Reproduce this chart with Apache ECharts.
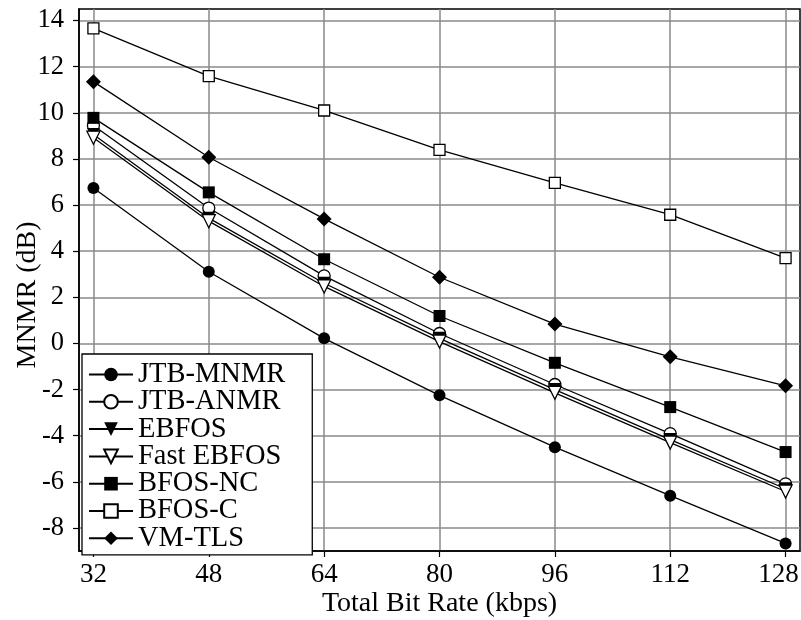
<!DOCTYPE html>
<html>
<head>
<meta charset="utf-8">
<script src="https://cdn.jsdelivr.net/npm/echarts@6/dist/echarts.min.js"></script>
<style>
  html, body { margin: 0; padding: 0; background: #fff; }
  #chart { width: 801px; height: 620px; }
</style>
</head>
<body>
<div id="chart"></div>
<script>
// Total bit rate (kbps) at which each allocation method was evaluated
const bitRates = [32, 48, 64, 80, 96, 112, 128];
const yTicks = [-8, -6, -4, -2, 0, 2, 4, 6, 8, 10, 12, 14];

// MNMR (dB) per method
const jtbMnmr   = [6.74, 3.11, 0.22, -2.25, -4.50, -6.60, -8.67];
const jtbAnmr   = [9.45, 5.87, 2.93, 0.43, -1.78, -3.91, -6.09];
const ebfos     = [9.06, 5.43, 2.61, 0.22, -2.00, -4.17, -6.30];
const fastEbfos = [8.92, 5.30, 2.47, 0.08, -2.14, -4.30, -6.42];
const bfosNc    = [9.78, 6.55, 3.65, 1.19, -0.84, -2.76, -4.71];
const bfosC     = [13.66, 11.59, 10.10, 8.39, 6.96, 5.58, 3.70];
const vmTls     = [11.35, 8.07, 5.40, 2.87, 0.84, -0.58, -1.84];

const FONT = '"Liberation Serif", "Times New Roman", serif';
const lastRate = bitRates[bitRates.length - 1];

function makeSeries(name, values, symbol, filled, size, rotate) {
  return {
    name: name,
    type: 'line',
    data: bitRates.map((x, i) => [x, values[i]]),
    symbol: symbol,
    symbolSize: size,
    symbolRotate: rotate || 0,
    showAllSymbol: true,
    lineStyle: { color: '#000', width: 1.3 },
    itemStyle: {
      color: filled ? '#000' : '#fff',
      borderColor: '#000',
      borderWidth: filled ? 0 : 1.3
    },
    emphasis: { disabled: true },
    animation: false
  };
}

const chart = echarts.init(document.getElementById('chart'), null, { renderer: 'canvas' });

chart.setOption({
  backgroundColor: '#fff',
  animation: false,
  grid: {
    left: 79, right: 1, top: 9, bottom: 69,
    outerBoundsMode: 'none',
    containLabel: false,
    show: true, borderColor: '#000', borderWidth: 1.5, backgroundColor: 'transparent'
  },
  legend: {
    orient: 'vertical',
    left: 82,
    top: 354,
    itemWidth: 44,
    itemHeight: 17,
    itemGap: -1.7,
    padding: [6, 27, 2, 6],
    backgroundColor: '#fff',
    borderColor: '#000',
    borderWidth: 1.3,
    borderRadius: 0,
    selectedMode: false,
    textStyle: { fontFamily: FONT, fontSize: 28.5, color: '#000' },
    data: ['JTB-MNMR', 'JTB-ANMR', 'EBFOS', 'Fast EBFOS', 'BFOS-NC', 'BFOS-C', 'VM-TLS']
  },
  xAxis: {
    type: 'value',
    min: 30,
    max: 130,
    name: 'Total Bit Rate (kbps)',
    nameLocation: 'middle',
    nameGap: 39,
    nameMoveOverlap: false,
    nameTextStyle: { fontFamily: FONT, fontSize: 28, color: '#000' },
    axisLine: { show: true, onZero: false, lineStyle: { color: '#000', width: 1.5 } },
    axisTick: { show: true, inside: false, length: 6, customValues: bitRates, lineStyle: { color: '#000', width: 1.2 } },
    axisLabel: {
      customValues: bitRates,
      margin: 10,
      fontFamily: FONT, fontSize: 27, color: '#000',
      // the rightmost label is pulled inward so it stays on the canvas
      formatter: v => (v === lastRate ? '{edge|' + v + '}' : String(v)),
      rich: { edge: { fontFamily: FONT, fontSize: 27, color: '#000', padding: [0, 14, 0, 0] } }
    },
    splitLine: { show: true, lineStyle: { color: '#8a8a8a', width: 1.5 } }
  },
  yAxis: {
    type: 'value',
    min: -9,
    max: 14.5,
    name: 'MNMR (dB)',
    nameLocation: 'middle',
    nameRotate: 90,
    nameGap: 37,
    nameMoveOverlap: false,
    nameTextStyle: { fontFamily: FONT, fontSize: 28, color: '#000', padding: [0, 30, 0, 0] },
    axisLine: { show: true, onZero: false, lineStyle: { color: '#000', width: 1.5 } },
    axisTick: { show: true, inside: false, length: 6, customValues: yTicks, lineStyle: { color: '#000', width: 1.2 } },
    axisLabel: { customValues: yTicks, margin: 15, fontFamily: FONT, fontSize: 26.5, color: '#000' },
    splitLine: { show: true, lineStyle: { color: '#8a8a8a', width: 1.5 } }
  },
  series: [
    makeSeries('JTB-MNMR', jtbMnmr, 'circle', true, 12),
    makeSeries('JTB-ANMR', jtbAnmr, 'circle', false, 12),
    makeSeries('EBFOS', ebfos, 'triangle', true, 13, 180),
    makeSeries('Fast EBFOS', fastEbfos, 'triangle', false, 13, 180),
    makeSeries('BFOS-NC', bfosNc, 'rect', true, 12),
    makeSeries('BFOS-C', bfosC, 'rect', false, 11),
    makeSeries('VM-TLS', vmTls, 'diamond', true, 15)
  ]
});
</script>
</body>
</html>
